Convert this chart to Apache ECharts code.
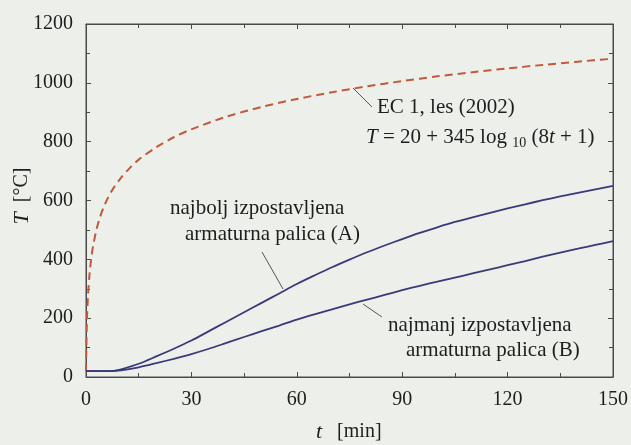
<!DOCTYPE html>
<html>
<head>
<meta charset="utf-8">
<script src="https://cdn.jsdelivr.net/npm/echarts@6/dist/echarts.min.js"></script>
<style>
html,body{margin:0;padding:0;background:#edefea;}
#c{width:631px;height:445px;}
</style>
</head>
<body>
<div id="c"></div>
<script>
// Data
var ecTimes = [0,0.25,0.5,1,1.5,2,3,4,5,6,7.5,10,12.5,15,20,25,30,40,50,60,70,80,90,100,110,120,130,140,150];
var ecTemps = [20,185,261,349,404,444,502,544,576,603,636,678,711,739,781,815,842,885,918,945,968,988,1006,1022,1036,1049,1061,1072,1082];

var barTimes = [0,5,8,10,15,20,25,30,35,40,45,50,55,60,65,70,75,80,85,90,95,100,105,110,115,120,125,130,135,140,145,150];
var barA = [20,20,21,26,45,70,96,124,156,188,220,252,284,316,345,373,399,424,447,469,490,509,527,543,558,573,587,601,614,626,638,650];
var barB = [20,20,21,23,33,47,62,78,96,116,136,156,175,195,213,230,247,263,279,295,310,324,338,352,366,380,394,409,423,436,449,462];

var xTicks = [0,30,60,90,120,150];
var yTicks = [0,200,400,600,800,1000,1200];

function pairs(xs, ys){ return xs.map(function(x,i){ return [x, ys[i]]; }); }

var FONT = '"Liberation Serif", "DejaVu Serif", serif';
var AX = '#4a4a4a';
var TXT = '#1e1e1e';

var chart = echarts.init(document.getElementById('c'), null, {renderer:'canvas'});

function axisBase(){
  return {
    type:'value',
    gridIndex:0,
    axisLine:{show:true, onZero:false, lineStyle:{color:AX, width:1}},
    axisTick:{show:true, inside:true, length:5, lineStyle:{color:AX}},
    minorTick:{show:true, splitNumber:2, length:4, lineStyle:{color:AX}},
    splitLine:{show:false},
    minorSplitLine:{show:false}
  };
}

var option = {
  backgroundColor:'#edefea',
  animation:false,
  grid:{left:86, right:18, top:24, bottom:68, containLabel:false, show:true, borderColor:AX, borderWidth:1, backgroundColor:'transparent'},
  xAxis:[
    Object.assign(axisBase(), {
      position:'bottom', min:xTicks[0], max:xTicks[xTicks.length-1], interval:30,
      axisLabel:{show:true, margin:13, fontFamily:FONT, fontSize:20, color:TXT,
        formatter:function(v){ return xTicks.indexOf(v) >= 0 ? String(v) : ''; }}
    }),
    Object.assign(axisBase(), {
      position:'top', min:0, max:150, interval:30,
      axisLabel:{show:false}
    })
  ],
  yAxis:[
    Object.assign(axisBase(), {
      position:'left', min:yTicks[0], max:yTicks[yTicks.length-1], interval:200,
      axisLabel:{show:true, margin:13, fontFamily:FONT, fontSize:20, color:TXT,
        formatter:function(v){ return yTicks.indexOf(v) >= 0 ? String(v) : ''; }}
    }),
    Object.assign(axisBase(), {
      position:'right', min:0, max:1200, interval:200,
      axisLabel:{show:false}
    })
  ],
  series:[
    {
      type:'line', name:'EC 1', data:pairs(ecTimes, ecTemps), showSymbol:false, smooth:0.3,
      lineStyle:{color:'#bf5a3c', width:2, type:[8,5]}
    },
    {
      type:'line', name:'A', data:pairs(barTimes, barA), showSymbol:false, smooth:0.3,
      lineStyle:{color:'#383b78', width:1.8}
    },
    {
      type:'line', name:'B', data:pairs(barTimes, barB), showSymbol:false, smooth:0.3,
      lineStyle:{color:'#383b78', width:1.8}
    },
    {
      type:'line', name:'frame', xAxisIndex:1, yAxisIndex:1, data:[], showSymbol:false, silent:true
    }
  ],
  graphic:[
    // leader lines
    {type:'line', shape:{x1:353, y1:88, x2:372, y2:107}, style:{stroke:'#555', lineWidth:1}},
    {type:'line', shape:{x1:283, y1:289, x2:262, y2:252}, style:{stroke:'#555', lineWidth:1}},
    {type:'line', shape:{x1:363, y1:304, x2:382, y2:317}, style:{stroke:'#555', lineWidth:1}},
    // annotations
    {type:'text', left:377, top:97, style:{text:'EC 1, les (2002)', font:'21px '+FONT, fill:TXT}},
    {type:'text', left:366, top:124, style:{
      text:'{i|T} = 20 + 345 log {s|10} (8{i|t} + 1)',
      font:'21px '+FONT, fill:TXT,
      rich:{
        i:{fontStyle:'italic', fontFamily:FONT, fontSize:21, fill:TXT, lineHeight:26},
        s:{fontFamily:FONT, fontSize:14, fill:TXT, lineHeight:14, verticalAlign:'bottom'}
      },
      lineHeight:26
    }},
    {type:'text', left:170, top:198, style:{text:'najbolj izpostavljena', font:'21px '+FONT, fill:TXT}},
    {type:'text', left:185, top:224, style:{text:'armaturna palica (A)', font:'21px '+FONT, fill:TXT}},
    {type:'text', left:388, top:315, style:{text:'najmanj izpostavljena', font:'21px '+FONT, fill:TXT}},
    {type:'text', left:406, top:340, style:{text:'armaturna palica (B)', font:'21px '+FONT, fill:TXT}},
    // axis names
    {type:'text', left:316, top:421, style:{
      text:'{i|t}   [min]', font:'20px '+FONT, fill:TXT,
      rich:{i:{fontStyle:'italic', fontFamily:FONT, fontSize:22, fill:TXT}}
    }},
    {type:'text', x:22, y:196, rotation:Math.PI/2, style:{
      text:'{i|T}  [°C]', font:'20px '+FONT, fill:TXT, align:'center', verticalAlign:'middle',
      rich:{i:{fontStyle:'italic', fontFamily:FONT, fontSize:22, fill:TXT}}
    }}
  ]
};
chart.setOption(option);
</script>
</body>
</html>
